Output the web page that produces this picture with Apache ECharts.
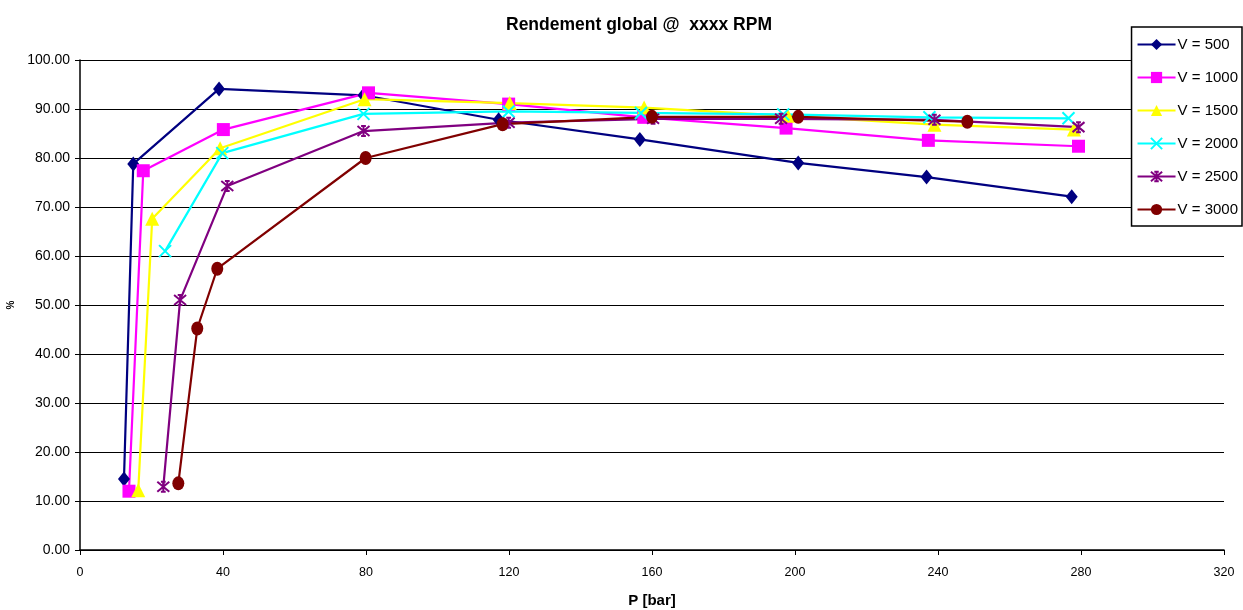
<!DOCTYPE html>
<html>
<head>
<meta charset="utf-8">
<script src="https://cdn.jsdelivr.net/npm/echarts@6/dist/echarts.min.js"></script>
<style>
html,body{margin:0;padding:0;background:#fff;}
#c{width:1243px;height:610px;}
</style>
</head>
<body>
<div id="c"></div>
<script>
var FONT = '"Liberation Sans Narrow", "Arial Narrow", "Liberation Sans", Arial, sans-serif';

var seriesNames = ['V = 500', 'V = 1000', 'V = 1500', 'V = 2000', 'V = 2500', 'V = 3000'];

var p500  = [12.3, 14.9, 38.9, 79.3, 117.1, 156.6, 200.9, 236.8, 277.4];
var r500  = [14.5, 78.8, 94.1, 92.8, 87.8, 83.8, 79.0, 76.1, 72.1];

var p1000 = [13.7, 17.7, 40.1, 80.7, 119.9, 157.7, 197.5, 237.3, 279.3];
var r1000 = [12.0, 77.4, 85.8, 93.3, 91.0, 88.3, 86.1, 83.6, 82.4];

var p1500 = [16.3, 20.2, 39.2, 79.6, 120.2, 157.8, 198.0, 239.0, 278.0];
var r1500 = [12.2, 67.6, 82.0, 92.0, 91.2, 90.3, 88.6, 86.8, 85.8];

var p2000 = [23.8, 39.8, 79.3, 119.9, 156.9, 196.7, 237.6, 276.5];
var r2000 = [61.0, 81.0, 89.0, 89.5, 89.2, 88.9, 88.3, 88.1];

var p2500 = [23.3, 28.0, 41.2, 79.3, 119.9, 160.3, 196.1, 239.0, 279.3];
var r2500 = [12.9, 51.0, 74.3, 85.5, 87.2, 88.0, 88.0, 87.8, 86.3];

var p3000 = [27.5, 32.8, 38.4, 79.9, 118.2, 160.0, 200.9, 248.2];
var r3000 = [13.6, 45.2, 57.4, 80.0, 86.9, 88.4, 88.4, 87.4];

var yTicks = [0, 10, 20, 30, 40, 50, 60, 70, 80, 90, 100];
var xTicks = [0, 40, 80, 120, 160, 200, 240, 280, 320];

var colors = ['#000080', '#FF00FF', '#FFFF00', '#00FFFF', '#800080', '#800000'];
var symbols = [
  'diamond',
  'rect',
  'triangle',
  'path://M0,0L10,10M10,0L0,10',
  'path://M0,0L10,10M10,0L0,10M5,-1L5,11M3,0L7,0M3,10L7,10',
  'circle'
];
var symbolSizes = [[12, 15], 13, 14, 12, 12, [12, 14]];

function pairs(xs, ys) {
  return xs.map(function (x, i) { return [x, ys[i]]; });
}

var dataSets = [
  pairs(p500, r500), pairs(p1000, r1000), pairs(p1500, r1500),
  pairs(p2000, r2000), pairs(p2500, r2500), pairs(p3000, r3000)
];

var series = seriesNames.map(function (n, i) {
  var stroked = (i === 3 || i === 4);
  return {
    name: n,
    type: 'line',
    data: dataSets[i],
    symbol: symbols[i],
    symbolSize: symbolSizes[i],
    showAllSymbol: true,
    lineStyle: { color: colors[i], width: 2.2 },
    itemStyle: stroked
      ? { color: colors[i], borderColor: colors[i], borderWidth: 2 }
      : { color: colors[i], borderWidth: 0 },
    emphasis: { disabled: true },
    animation: false
  };
});

var chart = echarts.init(document.getElementById('c'), null, { renderer: 'canvas' });
chart.setOption({
  animation: false,
  backgroundColor: '#fff',
  title: {
    text: 'Rendement global @  xxxx RPM',
    left: 634,
    textAlign: 'center',
    top: 11,
    textStyle: { fontFamily: FONT, fontSize: 17.5, fontWeight: 'bold', color: '#000' }
  },
  legend: {
    orient: 'vertical',
    right: 1,
    top: 27,
    width: 110,
    backgroundColor: '#fff',
    borderColor: '#000',
    borderWidth: 1.5,
    padding: [10, 4, 9, 5],
    itemWidth: 38,
    itemHeight: 14,
    itemGap: 18,
    textStyle: { fontFamily: FONT, fontSize: 15, color: '#000', padding: [0, 0, 0, -3] },
    data: seriesNames
  },
  grid: { left: 80, right: 19, top: 60, bottom: 60, containLabel: false, outerBoundsMode: 'none' },
  xAxis: {
    type: 'value',
    min: xTicks[0],
    max: xTicks[xTicks.length - 1],
    interval: 40,
    name: 'P [bar]',
    nameLocation: 'middle',
    nameGap: 43,
    nameTextStyle: { fontFamily: FONT, fontSize: 15, fontWeight: 'bold', color: '#000' },
    axisLine: { show: true, onZero: false, lineStyle: { color: '#000', width: 1.5 } },
    axisTick: { show: true, length: 5, lineStyle: { color: '#000' } },
    axisLabel: { fontFamily: FONT, fontSize: 12.5, color: '#000', margin: 16 },
    splitLine: { show: false }
  },
  yAxis: {
    type: 'value',
    min: yTicks[0],
    max: yTicks[yTicks.length - 1],
    interval: 10,
    name: '%',
    nameLocation: 'middle',
    nameGap: 64,
    nameRotate: 90,
    nameTextStyle: { fontFamily: FONT, fontSize: 10, fontWeight: 'bold', color: '#000' },
    axisLine: { show: true, lineStyle: { color: '#000', width: 1.5 } },
    axisTick: { show: true, length: 5, lineStyle: { color: '#000' } },
    axisLabel: {
      fontFamily: FONT, fontSize: 14, color: '#000', margin: 10,
      formatter: function (v) { return v.toFixed(2); }
    },
    splitLine: { show: true, lineStyle: { color: '#000', width: 1.2 } }
  },
  series: series
});
</script>
</body>
</html>
